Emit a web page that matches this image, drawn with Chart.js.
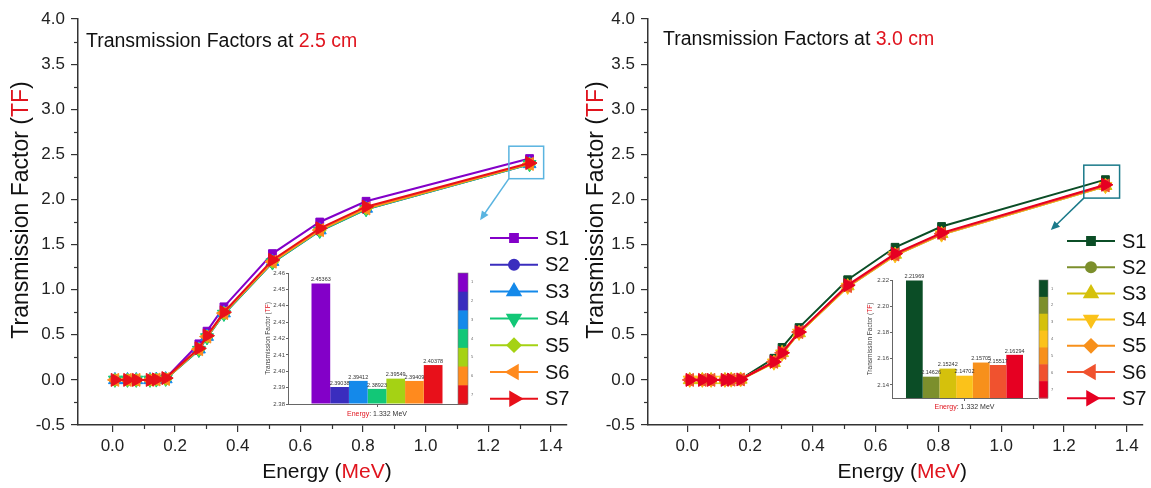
<!DOCTYPE html>
<html>
<head>
<meta charset="utf-8">
<script src="https://cdn.jsdelivr.net/npm/chart.js@4.4.1/dist/chart.umd.min.js"></script>
<style>
  html, body { margin: 0; padding: 0; background: #fff; }
  #wrap { position: relative; width: 1151px; height: 488px; background: #fff; overflow: hidden; }
  .box { position: absolute; }
</style>
</head>
<body>
<div id="wrap">
  <div class="box" style="left:0;top:0;width:575px;height:488px"><canvas id="mainLeft" width="575" height="488"></canvas></div>
  <div class="box" style="left:575px;top:0;width:576px;height:488px"><canvas id="mainRight" width="576" height="488"></canvas></div>
  <div class="box" style="left:240px;top:262px;width:235px;height:160px"><canvas id="insetLeft" width="235" height="160"></canvas></div>
  <div class="box" style="left:845px;top:270px;width:215px;height:145px"><canvas id="insetRight" width="215" height="145"></canvas></div>
</div>
<script>
// Données
const energy = [0.008, 0.048, 0.076, 0.12, 0.14, 0.17, 0.276, 0.302, 0.356, 0.511, 0.662, 0.81, 1.332];
const seriesNames = ['S1', 'S2', 'S3', 'S4', 'S5', 'S6', 'S7'];

// 2.5 cm
const tf25S1 = [0, 0, 0, 0, 0.005, 0.02, 0.40, 0.54, 0.81, 1.40, 1.75, 1.98, 2.45363];
const tf25S2 = [0, 0, 0, 0, 0.003, 0.01, 0.33, 0.47, 0.73, 1.30, 1.65, 1.89, 2.39038];
const tf25S3 = [0, 0, 0, 0, 0.004, 0.01, 0.34, 0.48, 0.74, 1.31, 1.66, 1.90, 2.39412];
const tf25S4 = [0, 0, 0, 0, 0.003, 0.01, 0.33, 0.47, 0.73, 1.30, 1.65, 1.89, 2.38923];
const tf25S5 = [0, 0, 0, 0, 0.004, 0.01, 0.34, 0.48, 0.74, 1.31, 1.66, 1.90, 2.39549];
const tf25S6 = [0, 0, 0, 0, 0.004, 0.01, 0.34, 0.48, 0.74, 1.31, 1.66, 1.90, 2.39409];
const tf25S7 = [0, 0, 0, 0, 0.005, 0.02, 0.35, 0.49, 0.75, 1.33, 1.68, 1.92, 2.40378];

// 3.0 cm
const tf30S1 = [0, 0, 0, 0, 0.003, 0.01, 0.24, 0.36, 0.58, 1.11, 1.47, 1.70, 2.21969];
const tf30S2 = [0, 0, 0, 0, 0.002, 0.005, 0.19, 0.29, 0.52, 1.03, 1.38, 1.61, 2.14626];
const tf30S3 = [0, 0, 0, 0, 0.002, 0.005, 0.19, 0.30, 0.52, 1.04, 1.39, 1.62, 2.15242];
const tf30S4 = [0, 0, 0, 0, 0.002, 0.005, 0.19, 0.29, 0.52, 1.03, 1.38, 1.61, 2.14702];
const tf30S5 = [0, 0, 0, 0, 0.002, 0.005, 0.20, 0.30, 0.53, 1.04, 1.39, 1.62, 2.15705];
const tf30S6 = [0, 0, 0, 0, 0.002, 0.005, 0.20, 0.30, 0.53, 1.04, 1.39, 1.62, 2.15517];
const tf30S7 = [0, 0, 0, 0, 0.003, 0.005, 0.20, 0.30, 0.53, 1.05, 1.40, 1.63, 2.16294];

// Axes
const xMajor = [0.0, 0.2, 0.4, 0.6, 0.8, 1.0, 1.2, 1.4];
const xMinor = [0.1, 0.3, 0.5, 0.7, 0.9, 1.1, 1.3];
const yMajor = [-0.5, 0.0, 0.5, 1.0, 1.5, 2.0, 2.5, 3.0, 3.5, 4.0];
const yMinor = [-0.25, 0.25, 0.75, 1.25, 1.75, 2.25, 2.75, 3.25, 3.75];
const insetLeftTicks = [2.38, 2.39, 2.40, 2.41, 2.42, 2.43, 2.44, 2.45, 2.46];
const insetRightTicks = [2.14, 2.16, 2.18, 2.20, 2.22];

const colors25 = ['#8300C8', '#3A2DBE', '#1489EA', '#12C777', '#A5D214', '#FF8A1E', '#E8101A'];
const colors30 = ['#0B4D26', '#7C8F2C', '#D5C10C', '#FBC21A', '#F7901B', '#F0522F', '#E60022'];
const markers = ['rect', 'circle', 'triangle', 'triangle', 'rectRot', 'triangle', 'triangle'];
const rotations = [0, 0, 0, 180, 0, -90, 90];
const markerSizes = [5.5, 5, 7.5, 7.5, 6.5, 7.5, 7.5];

const FONT = '"Liberation Sans", Arial, sans-serif';
const RED = '#E0141E';

// Texte multicolore
function drawParts(ctx, parts, x, y, align) {
    let total = 0;
    parts.forEach(p => { total += ctx.measureText(p[0]).width; });
    let cx = align === 'center' ? x - total / 2 : x;
    ctx.textAlign = 'left';
    parts.forEach(p => {
        ctx.fillStyle = p[1];
        ctx.fillText(p[0], cx, y);
        cx += ctx.measureText(p[0]).width;
    });
}

function marker(ctx, style, rotation, radius, x, y) {
    if (Chart.helpers && Chart.helpers.drawPoint) {
        Chart.helpers.drawPoint(ctx, { pointStyle: style, rotation: rotation, radius: radius, borderWidth: 1 }, x, y);
    } else {
        ctx.beginPath();
        ctx.arc(x, y, radius, 0, Math.PI * 2);
        ctx.fill();
    }
}

// Décor des graphiques principaux
const panelDeco = {
    id: 'panelDeco',
    afterDraw(chart, args, o) {
        const ctx = chart.ctx;
        const xs = chart.scales.x, ys = chart.scales.y;
        const area = chart.chartArea;
        ctx.save();

        // graduations mineures
        ctx.strokeStyle = '#333';
        ctx.lineWidth = 1.2;
        xMinor.forEach(v => {
            const px = Math.round(xs.getPixelForValue(v)) + 0.5;
            ctx.beginPath(); ctx.moveTo(px, area.bottom); ctx.lineTo(px, area.bottom + 4); ctx.stroke();
        });
        yMinor.forEach(v => {
            const py = Math.round(ys.getPixelForValue(v)) + 0.5;
            ctx.beginPath(); ctx.moveTo(area.left - 4, py); ctx.lineTo(area.left, py); ctx.stroke();
        });

        // titre
        ctx.font = '19.5px ' + FONT;
        ctx.textBaseline = 'middle';
        drawParts(ctx, [['Transmission Factors at ', '#111'], [o.depth, RED]], o.titleX, o.titleY, 'left');

        // titres d'axes
        ctx.font = '21px ' + FONT;
        drawParts(ctx, [['Energy (', '#111'], ['MeV', RED], [')', '#111']], xs.getPixelForValue(0.685), 472, 'center');
        ctx.save();
        ctx.translate(o.yTitleX, 210);
        ctx.rotate(-Math.PI / 2);
        ctx.font = '23px ' + FONT;
        drawParts(ctx, [['Transmission Factor (', '#111'], ['TF', RED], [')', '#111']], 0, 0, 'center');
        ctx.restore();

        // légende
        chart.data.datasets.forEach((ds, i) => {
            const y = o.legendY + i * o.legendGap;
            ctx.strokeStyle = ds.borderColor;
            ctx.lineWidth = 2;
            ctx.beginPath(); ctx.moveTo(o.legendX, y); ctx.lineTo(o.legendX + 48, y); ctx.stroke();
            ctx.fillStyle = ds.borderColor;
            marker(ctx, markers[i], rotations[i], markerSizes[i], o.legendX + 24, y);
            ctx.fillStyle = '#111';
            ctx.font = '20px ' + FONT;
            ctx.textAlign = 'left';
            ctx.fillText(ds.label, o.legendX + 55, y + 1);
        });

        // cadre de zoom et flèche
        const b = o.zoomBox;
        const x1 = xs.getPixelForValue(b.x0), x2 = xs.getPixelForValue(b.x1);
        const y1 = ys.getPixelForValue(b.y1), y2 = ys.getPixelForValue(b.y0);
        ctx.strokeStyle = o.boxColor;
        ctx.fillStyle = o.boxColor;
        ctx.lineWidth = 1.5;
        ctx.strokeRect(x1, y1, x2 - x1, y2 - y1);
        const ax = xs.getPixelForValue(b.ax), ay = ys.getPixelForValue(b.ay);
        const ang = Math.atan2(ay - y2, ax - x1);
        ctx.beginPath(); ctx.moveTo(x1, y2); ctx.lineTo(ax - 6 * Math.cos(ang), ay - 6 * Math.sin(ang)); ctx.stroke();
        ctx.beginPath();
        ctx.moveTo(ax, ay);
        ctx.lineTo(ax - 9 * Math.cos(ang) + 4 * Math.sin(ang), ay - 9 * Math.sin(ang) - 4 * Math.cos(ang));
        ctx.lineTo(ax - 9 * Math.cos(ang) - 4 * Math.sin(ang), ay - 9 * Math.sin(ang) + 4 * Math.cos(ang));
        ctx.closePath();
        ctx.fill();

        ctx.restore();
    }
};

function createMainChart(canvasId, series, colors, yAxisWidth, xMin, deco) {
    const datasets = series.map((vals, i) => ({
        label: seriesNames[i],
        data: energy.map((e, k) => ({ x: e, y: vals[k] })),
        borderColor: colors[i],
        backgroundColor: colors[i],
        pointBackgroundColor: colors[i],
        pointBorderColor: colors[i],
        borderWidth: 2,
        pointStyle: markers[i],
        pointRotation: rotations[i],
        pointRadius: markerSizes[i],
        pointBorderWidth: 1,
        order: 6 - i
    }));

    return new Chart(document.getElementById(canvasId), {
        type: 'line',
        data: { datasets: datasets },
        plugins: [panelDeco],
        options: {
            responsive: false,
            animation: false,
            layout: { padding: { top: 19, right: 6, left: 0, bottom: 0 } },
            plugins: {
                legend: { display: false },
                tooltip: { enabled: false },
                panelDeco: deco
            },
            scales: {
                x: {
                    type: 'linear',
                    min: xMin,
                    max: 1.45,
                    afterBuildTicks: s => { s.ticks = xMajor.map(v => ({ value: v })); },
                    afterFit: s => { s.height = 63; },
                    ticks: {
                        autoSkip: false, maxRotation: 0, padding: 4, color: '#222',
                        font: { size: 17, family: FONT },
                        callback: v => Number(v).toFixed(1)
                    },
                    grid: { drawOnChartArea: false, drawTicks: true, tickLength: 7, color: '#333', lineWidth: 1.2 },
                    border: { display: true, color: '#333', width: 1.5 }
                },
                y: {
                    min: -0.5,
                    max: 4.0,
                    afterBuildTicks: s => { s.ticks = yMajor.map(v => ({ value: v })); },
                    afterFit: s => { s.width = yAxisWidth; },
                    ticks: {
                        autoSkip: false, padding: 6, color: '#222',
                        font: { size: 17, family: FONT },
                        callback: v => Number(v).toFixed(1)
                    },
                    grid: { drawOnChartArea: false, drawTicks: true, tickLength: 7, color: '#333', lineWidth: 1.2 },
                    border: { display: true, color: '#333', width: 1.5 }
                }
            }
        }
    });
}

// Décor des encarts (barres)
const insetDeco = {
    id: 'insetDeco',
    afterDraw(chart, args, o) {
        const ctx = chart.ctx;
        const area = chart.chartArea;
        ctx.save();

        // valeurs au-dessus des barres
        ctx.font = '5.5px ' + FONT;
        ctx.fillStyle = '#333';
        ctx.textAlign = 'center';
        ctx.textBaseline = 'bottom';
        chart.data.datasets.forEach((ds, i) => {
            const bar = chart.getDatasetMeta(i).data[0];
            ctx.fillText(ds.data[0].toFixed(5), bar.x, bar.y - 1);
        });

        // titre de l'axe y
        ctx.save();
        ctx.translate(o.yTitleX, (area.top + area.bottom) / 2);
        ctx.rotate(-Math.PI / 2);
        ctx.font = '6.5px ' + FONT;
        ctx.textBaseline = 'middle';
        drawParts(ctx, [['Transmission Factor (', '#444'], ['TF', RED], [')', '#444']], 0, 0, 'center');
        ctx.restore();

        // étiquette de l'axe x
        ctx.font = '7px ' + FONT;
        ctx.textBaseline = 'middle';
        drawParts(ctx, [['Energy', RED], [': 1.332 MeV', '#333']], (area.left + area.right) / 2, o.labelY, 'center');

        // barre de couleurs
        const h = (area.bottom - area.top) / chart.data.datasets.length;
        chart.data.datasets.forEach((ds, i) => {
            ctx.fillStyle = ds.backgroundColor;
            ctx.fillRect(o.barX, area.top + i * h, o.barW, h + 0.5);
            ctx.fillStyle = '#666';
            ctx.font = '4px ' + FONT;
            ctx.textAlign = 'left';
            ctx.fillText(String(i + 1), o.barX + o.barW + 3, area.top + (i + 0.5) * h);
        });
        ctx.strokeStyle = '#777';
        ctx.lineWidth = 0.6;
        ctx.strokeRect(o.barX, area.top, o.barW, area.bottom - area.top);

        ctx.restore();
    }
};

function createInset(canvasId, values, colors, yMin, yMax, ticks, geo) {
    const datasets = values.map((v, i) => ({
        label: seriesNames[i],
        data: [v],
        base: yMin,
        backgroundColor: colors[i],
        borderWidth: 0,
        barPercentage: 1,
        categoryPercentage: geo.catPct
    }));

    return new Chart(document.getElementById(canvasId), {
        type: 'bar',
        data: { labels: ['1.332'], datasets: datasets },
        plugins: [insetDeco],
        options: {
            responsive: false,
            animation: false,
            layout: { padding: { top: geo.top, right: geo.right, left: 0, bottom: 0 } },
            plugins: {
                legend: { display: false },
                tooltip: { enabled: false },
                insetDeco: geo.deco
            },
            scales: {
                x: {
                    afterFit: s => { s.height = geo.xHeight; },
                    ticks: { callback: () => '', padding: 0 },
                    grid: { drawOnChartArea: false, offset: false, tickLength: 3, color: '#666' },
                    border: { color: '#666', width: 1 }
                },
                y: {
                    min: yMin,
                    max: yMax,
                    afterBuildTicks: s => { s.ticks = ticks.map(v => ({ value: v })); },
                    afterFit: s => { s.width = geo.yWidth; },
                    ticks: { font: { size: 6, family: FONT }, color: '#444', padding: 1, callback: v => Number(v).toFixed(2) },
                    grid: { drawOnChartArea: false, tickLength: 2, color: '#666' },
                    border: { color: '#666', width: 1 }
                }
            }
        }
    });
}

createMainChart('mainLeft', [tf25S1, tf25S2, tf25S3, tf25S4, tf25S5, tf25S6, tf25S7], colors25, 78, -0.11, {
    depth: '2.5 cm', titleX: 86, titleY: 42, yTitleX: 22,
    legendX: 490, legendY: 238, legendGap: 26.8,
    boxColor: '#5AB4E0',
    zoomBox: { x0: 1.266, x1: 1.377, y0: 2.23, y1: 2.59, ax: 1.174, ay: 1.77 }
});

createMainChart('mainRight', [tf30S1, tf30S2, tf30S3, tf30S4, tf30S5, tf30S6, tf30S7], colors30, 73, -0.125, {
    depth: '3.0 cm', titleX: 88, titleY: 40, yTitleX: 22,
    legendX: 492, legendY: 241, legendGap: 26.2,
    boxColor: '#1B7A8A',
    zoomBox: { x0: 1.263, x1: 1.377, y0: 2.015, y1: 2.38, ax: 1.158, ay: 1.66 }
});

createInset('insetLeft', [tf25S1[12], tf25S2[12], tf25S3[12], tf25S4[12], tf25S5[12], tf25S6[12], tf25S7[12]],
    colors25, 2.38, 2.46, insetLeftTicks, {
        catPct: 0.736, top: 11, right: 9, xHeight: 18, yWidth: 48,
        deco: { yTitleX: 28, labelY: 152, barX: 218, barW: 10 }
    });

createInset('insetRight', [tf30S1[12], tf30S2[12], tf30S3[12], tf30S4[12], tf30S5[12], tf30S6[12], tf30S7[12]],
    colors30, 2.13, 2.22, insetRightTicks, {
        catPct: 0.807, top: 10, right: 23, xHeight: 17, yWidth: 47,
        deco: { yTitleX: 25, labelY: 137, barX: 194, barW: 9 }
    });
</script>
</body>
</html>
